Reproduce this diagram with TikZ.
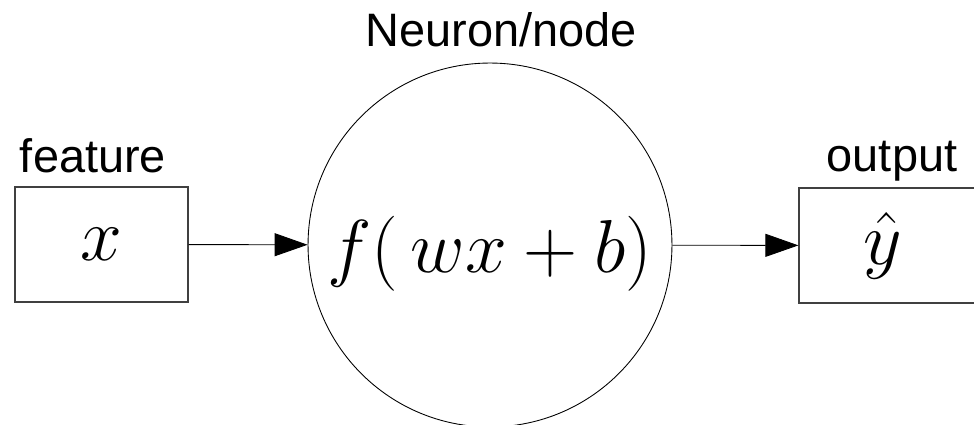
\RequirePackage{fix-cm}
\documentclass[tikz,border=0pt]{standalone}
\usepackage{fontspec}
\newfontfamily\labelfont{Liberation Sans}
\usepackage{tikz}
\usetikzlibrary{shapes.geometric, arrows.meta, positioning, calc}

\begin{document}
\begin{tikzpicture}[
      x=0.02cm, y=-0.02cm,
      box/.style={rectangle, draw=black!75, line width=0.7pt, minimum width=3.46cm, minimum height=2.3cm, inner sep=0pt, font=\fontsize{42.7}{50}\selectfont},
      neuron/.style={circle, draw=black, line width=0.5pt, minimum size=7.28cm, inner sep=0pt},
      formula/.style={inner sep=0pt, font=\fontsize{42.7}{50}\selectfont},
      tag/.style={anchor=base, inner sep=0pt, font=\labelfont\fontsize{26.7}{32}\selectfont},
      arrow/.style={-{Triangle[length=6.6mm, width=4.6mm]}, line width=0.5pt, draw=black}
  ]
  \useasboundingbox (0,0) rectangle (974,425);
  \clip (0,0) rectangle (974,425);

  \node[box] (feat) at (101.5,244.5) {$x$};
  \node[neuron] (unit) at (490,245) {};
  \node[formula] (act) at ($(unit.center)+(0,9)$) {$f(\,wx+b)$};
  \node[box, minimum width=3.56cm] (out) at (888,245.5) {\hspace{-6pt}$\hat{y}$};

  \node[tag] (featlbl) at (93,173) {feature};
  \node[tag] (unitlbl) at (501,47) {Neuron/node};
  \node[tag] (outlbl) at (892,172) {output};

  \draw[arrow] (feat) -- (unit);
  \draw[arrow] (unit) -- (out);

\end{tikzpicture}
\end{document}
